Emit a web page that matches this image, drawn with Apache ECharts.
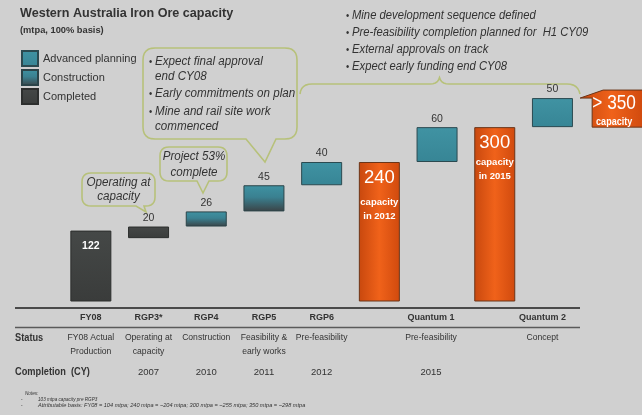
<!DOCTYPE html>
<html><head><meta charset="utf-8">
<script src="https://cdn.jsdelivr.net/npm/echarts@6/dist/echarts.min.js"></script>
<style>html,body{margin:0;padding:0;background:#d0d0d0}#c{width:642px;height:415px}</style>
</head><body><div id="c"></div>
<script>
// ---- data ----
const categories = ['FY08','RGP3*','RGP4','RGP5','RGP6','','Quantum 1','','Quantum 2',''];
const statusLabels = ['FY08 Actual\nProduction','Operating at\ncapacity','Construction','Feasibility &\nearly works','Pre-feasibility','','Pre-feasibility','','Concept',''];
const completionLabels = ['','2007','2010','2011','2012','','2015','','',''];
const baseValues = [0,109,129,155,200,0,240,0,300,'-'];
const completedValues = [122,20,'-','-','-','-','-','-','-','-'];
const constructionValues = ['-','-',26,45,'-','-','-','-','-','-'];
const advancedValues = ['-','-','-','-',40,'-',60,'-',50,'-'];
const capacityValues = ['-','-','-','-','-',240,'-',300,'-','-'];
const capacityNotes = ['','','','','','capacity\nin 2012','','capacity\nin 2015','',''];
const futureCapacity = [[9, 300, 350]];
const futureLabel = ['> 350', 'capacity'];

const FONT = "'Liberation Sans',Arial,sans-serif";
const TXT = '#333333';
const OLIVE = '#b7c17a';
const SX = 0.84;
const G = echarts.graphic;

const completedColor = new G.LinearGradient(0,0,0,1,[{offset:0,color:'#454847'},{offset:1,color:'#3a3c3b'}]);
const constructionColor = new G.LinearGradient(0,0,0,1,[{offset:0,color:'#3f92a2'},{offset:0.45,color:'#3a8191'},{offset:1,color:'#3b4346'}]);
const advancedColor = new G.LinearGradient(0,0,0,1,[{offset:0,color:'#4093a3'},{offset:1,color:'#378595'}]);
const orangeColor = () => new G.LinearGradient(0,0,1,0,[{offset:0,color:'#c8480e'},{offset:0.5,color:'#f0621a'},{offset:1,color:'#d04a0e'}]);

// helpers for annotation shapes
function quad(p0, c, p1, n) {
  const out = [];
  for (let i = 1; i <= n; i++) {
    const t = i / n, a = (1-t)*(1-t), b = 2*(1-t)*t, d = t*t;
    out.push([a*p0[0]+b*c[0]+d*p1[0], a*p0[1]+b*c[1]+d*p1[1]]);
  }
  return out;
}
function callout(x0, y0, x1, y1, r, tail) {
  const pts = [[x0+r, y0], [x1-r, y0]];
  pts.push(...quad([x1-r,y0],[x1,y0],[x1,y0+r],6));
  pts.push([x1, y1-r]);
  pts.push(...quad([x1,y1-r],[x1,y1],[x1-r,y1],6));
  pts.push([tail[1], y1], [tail[2], tail[3]], [tail[0], y1]);
  pts.push([x0+r, y1]);
  pts.push(...quad([x0+r,y1],[x0,y1],[x0,y1-r],6));
  pts.push([x0, y0+r]);
  pts.push(...quad([x0,y0+r],[x0,y0],[x0+r,y0],6));
  return {type:'polygon', shape:{points:pts}, style:{fill:'none', stroke:OLIVE, lineWidth:1.6}};
}
function txt(text, x, y, o) {
  o = o || {};
  return {type:'text', x:x, y:y, scaleX: o.sx || SX, style:Object.assign({
    text:text, x:0, y:0, verticalAlign:'middle', fill:TXT, fontFamily:FONT, fontSize:12
  }, o.style || {})};
}
const note = (t, x, y) => txt(t, x, y, {sx:0.93, style:{fontSize:12.5, fontStyle:'italic'}});

const brace = [[300,94]].concat(
  quad([300,94],[301,84],[312,84],6), [[430,84]],
  quad([430,84],[438,84],[439.5,77.5],5),
  quad([439.5,77.5],[441,84],[449,84],5), [[567,84]],
  quad([567,84],[578,84],[580,94],6));

const chart = echarts.init(document.getElementById('c'), null, {renderer:'canvas'});

function mkXAxis(data, margin, label) {
  return {
    type:'category', data: data, position:'bottom', gridIndex:0,
    axisLine:{show:false, onZero:false}, axisTick:{show:false}, splitLine:{show:false},
    axisLabel:Object.assign({interval:0, margin: margin, color:TXT, fontFamily:FONT, fontSize:8.6, lineHeight:14}, label || {})
  };
}
const shift = (arr, pads) => arr.map((c,i)=> pads[i] ? {value:c, textStyle:{padding:[0,pads[i],0,0]}} : c);
const pads = {6:12, 8:20};

const capLabel = (dist, bigLH) => ({
  show:true, position:'insideTop', distance:dist,
  formatter: p => '{big|' + p.value + '}\n{small|' + capacityNotes[p.dataIndex].replace('\n','}\n{small|') + '}',
  rich:{
    big:{fontSize:18.5, lineHeight:bigLH, color:'#fff', fontFamily:FONT},
    small:{fontSize:9.5, lineHeight:14, color:'#fff', fontWeight:'bold', fontFamily:FONT}
  }
});
const valLabel = {show:true, position:'top', distance:3, color:TXT, fontFamily:FONT, fontSize:10.5};

const option = {
  backgroundColor:'#d0d0d0',
  animation:false,
  title:{
    text:'Western Australia Iron Ore capacity', subtext:'(mtpa, 100% basis)',
    left:20, top:6, padding:0, itemGap:2,
    textStyle:{fontFamily:FONT, fontSize:12.6, fontWeight:'bold', color:TXT, lineHeight:16},
    subtextStyle:{fontFamily:FONT, fontSize:9.3, fontWeight:'bold', color:TXT, lineHeight:12}
  },
  legend:{
    data:['Advanced planning','Construction','Completed'],
    orient:'vertical', left:21, top:50, padding:0,
    itemWidth:16, itemHeight:15, itemGap:2, icon:'rect',
    textStyle:{fontFamily:FONT, fontSize:11, color:TXT}
  },
  grid:{left:62, right:3, top:69, bottom:113.5, containLabel:false},
  xAxis:[
    mkXAxis(shift(categories, pads), 10.5, {fontWeight:'bold', fontSize:9, lineHeight:12}),
    mkXAxis(shift(statusLabels, pads), 29.5),
    mkXAxis(shift(completionLabels, pads), 63.5, {fontSize:9.5})
  ],
  yAxis:{type:'value', min:0, max:400, show:false},
  series:[
    {name:'base', type:'bar', stack:'w', barWidth:41, data:baseValues,
     itemStyle:{color:'transparent'}, emphasis:{disabled:true}, silent:true},
    {name:'Completed', type:'bar', stack:'w', barWidth:41,
     data: completedValues.map((v,i)=> i===0 ? {value:v, label:{position:'insideTop', distance:10, color:'#fff', fontWeight:'bold'}} : v),
     itemStyle:{color:completedColor, borderColor:'#2c2e2d', borderWidth:1}, label:valLabel},
    {name:'Construction', type:'bar', stack:'w', barWidth:41, data:constructionValues,
     itemStyle:{color:constructionColor, borderColor:'#2b4449', borderWidth:1}, label:valLabel},
    {name:'Advanced planning', type:'bar', stack:'w', barWidth:41, data:advancedValues,
     itemStyle:{color:advancedColor, borderColor:'#2b4a50', borderWidth:1}, label:valLabel},
    {name:'Capacity', type:'bar', stack:'w', barWidth:41,
     data: capacityValues.map((v,i)=> v==='-' ? v : {value:v, label: i===5 ? capLabel(-1, 34) : capLabel(4, 24)}),
     itemStyle:{color:orangeColor(), borderColor:'#6b3518', borderWidth:1}},
    {name:'Future', type:'custom', clip:false, data:futureCapacity,
     encode:{x:0, y:[1,2]},
     renderItem:(params, api) => {
       const idx = api.value(0);
       const p0 = api.coord([idx, api.value(1)]);
       const p1 = api.coord([idx, api.value(2)]);
       const cx = p0[0];
       const left = cx - 18, right = cx + 33, eave = cx - 30;
       const top = p1[1], bottom = p0[1], roof = top - 8;
       return {type:'group', children:[
         {type:'polygon', shape:{points:[[eave,top],[left+11,roof],[right,roof],[right,bottom],[left,bottom],[left,top]]},
          style:{fill:orangeColor(), stroke:'#6b3518', lineWidth:1}},
         {type:'text', x:cx+4, y:top+5, scaleX:0.82, style:{text:futureLabel[0], x:0, y:0, align:'center', verticalAlign:'middle', fill:'#fff', fontSize:21, fontFamily:FONT}},
         {type:'text', x:cx+4, y:top+24, scaleX:0.82, style:{text:futureLabel[1], x:0, y:0, align:'center', verticalAlign:'middle', fill:'#fff', fontSize:11, fontWeight:'bold', fontFamily:FONT}}
       ]};
     }}
  ],
  graphic:[
    {type:'line', shape:{x1:15,y1:308,x2:580,y2:308}, style:{stroke:'#4a4a4a', lineWidth:2}},
    {type:'line', shape:{x1:15,y1:327.5,x2:580,y2:327.5}, style:{stroke:'#5a5a5a', lineWidth:1.5}},
    txt('Status', 15, 338, {style:{fontSize:11, fontWeight:'bold'}}),
    txt('Completion  (CY)', 15, 372, {style:{fontSize:11, fontWeight:'bold'}}),
    txt('Notes:', 25, 393, {style:{fontSize:5.5, fontStyle:'italic'}}),
    txt('-', 21, 399, {style:{fontSize:5.5}}),
    txt('103 mtpa capacity pre RGP3', 38, 399, {style:{fontSize:5.5, fontStyle:'italic'}}),
    txt('-', 21, 405.5, {style:{fontSize:5.5}}),
    txt('Attributable basis: FY08 = 104 mtpa; 240 mtpa = ~204 mtpa; 300 mtpa = ~255 mtpa; 350 mtpa = ~298 mtpa', 38, 405.5, {sx:1, style:{fontSize:5.6, fontStyle:'italic'}}),
    // callouts
    callout(82, 173, 155, 206, 9, [136, 144, 146, 212]),
    txt('Operating at\ncapacity', 118.5, 189.5, {sx:0.93, style:{align:'center', lineHeight:14, fontSize:12.5, fontStyle:'italic'}}),
    callout(160, 147, 227, 181, 9, [197, 209, 203, 193]),
    txt('Project 53%\ncomplete', 194, 164.5, {sx:0.93, style:{align:'center', lineHeight:16, fontSize:12.5, fontStyle:'italic'}}),
    callout(143, 48, 297, 139, 12, [246, 276, 265, 162]),
    txt('\u2022', 149, 62, {style:{fontSize:11}}),
    note('Expect final approval', 155, 62),
    note('end CY08', 155, 76.5),
    txt('\u2022', 149, 94, {style:{fontSize:11}}),
    note('Early commitments on plan', 155, 94),
    txt('\u2022', 149, 111.5, {style:{fontSize:11}}),
    note('Mine and rail site work', 155, 111.5),
    note('commenced', 155, 127),
    // brace
    {type:'polyline', shape:{points:brace}, style:{fill:'none', stroke:OLIVE, lineWidth:1.6}},
    // top right bullets
    ...[
      ['Mine development sequence defined',15.5],
      ['Pre-feasibility completion planned for  H1 CY09',32.5],
      ['External approvals on track',50],
      ['Expect early funding end CY08',67]
    ].flatMap(([t,y]) => [
      txt('\u2022', 346, y, {style:{fontSize:11}}),
      txt(t, 352, y, {sx:0.9, style:{fontSize:12.5, fontStyle:'italic'}})
    ])
  ]
};
chart.setOption(option);
</script></body></html>
